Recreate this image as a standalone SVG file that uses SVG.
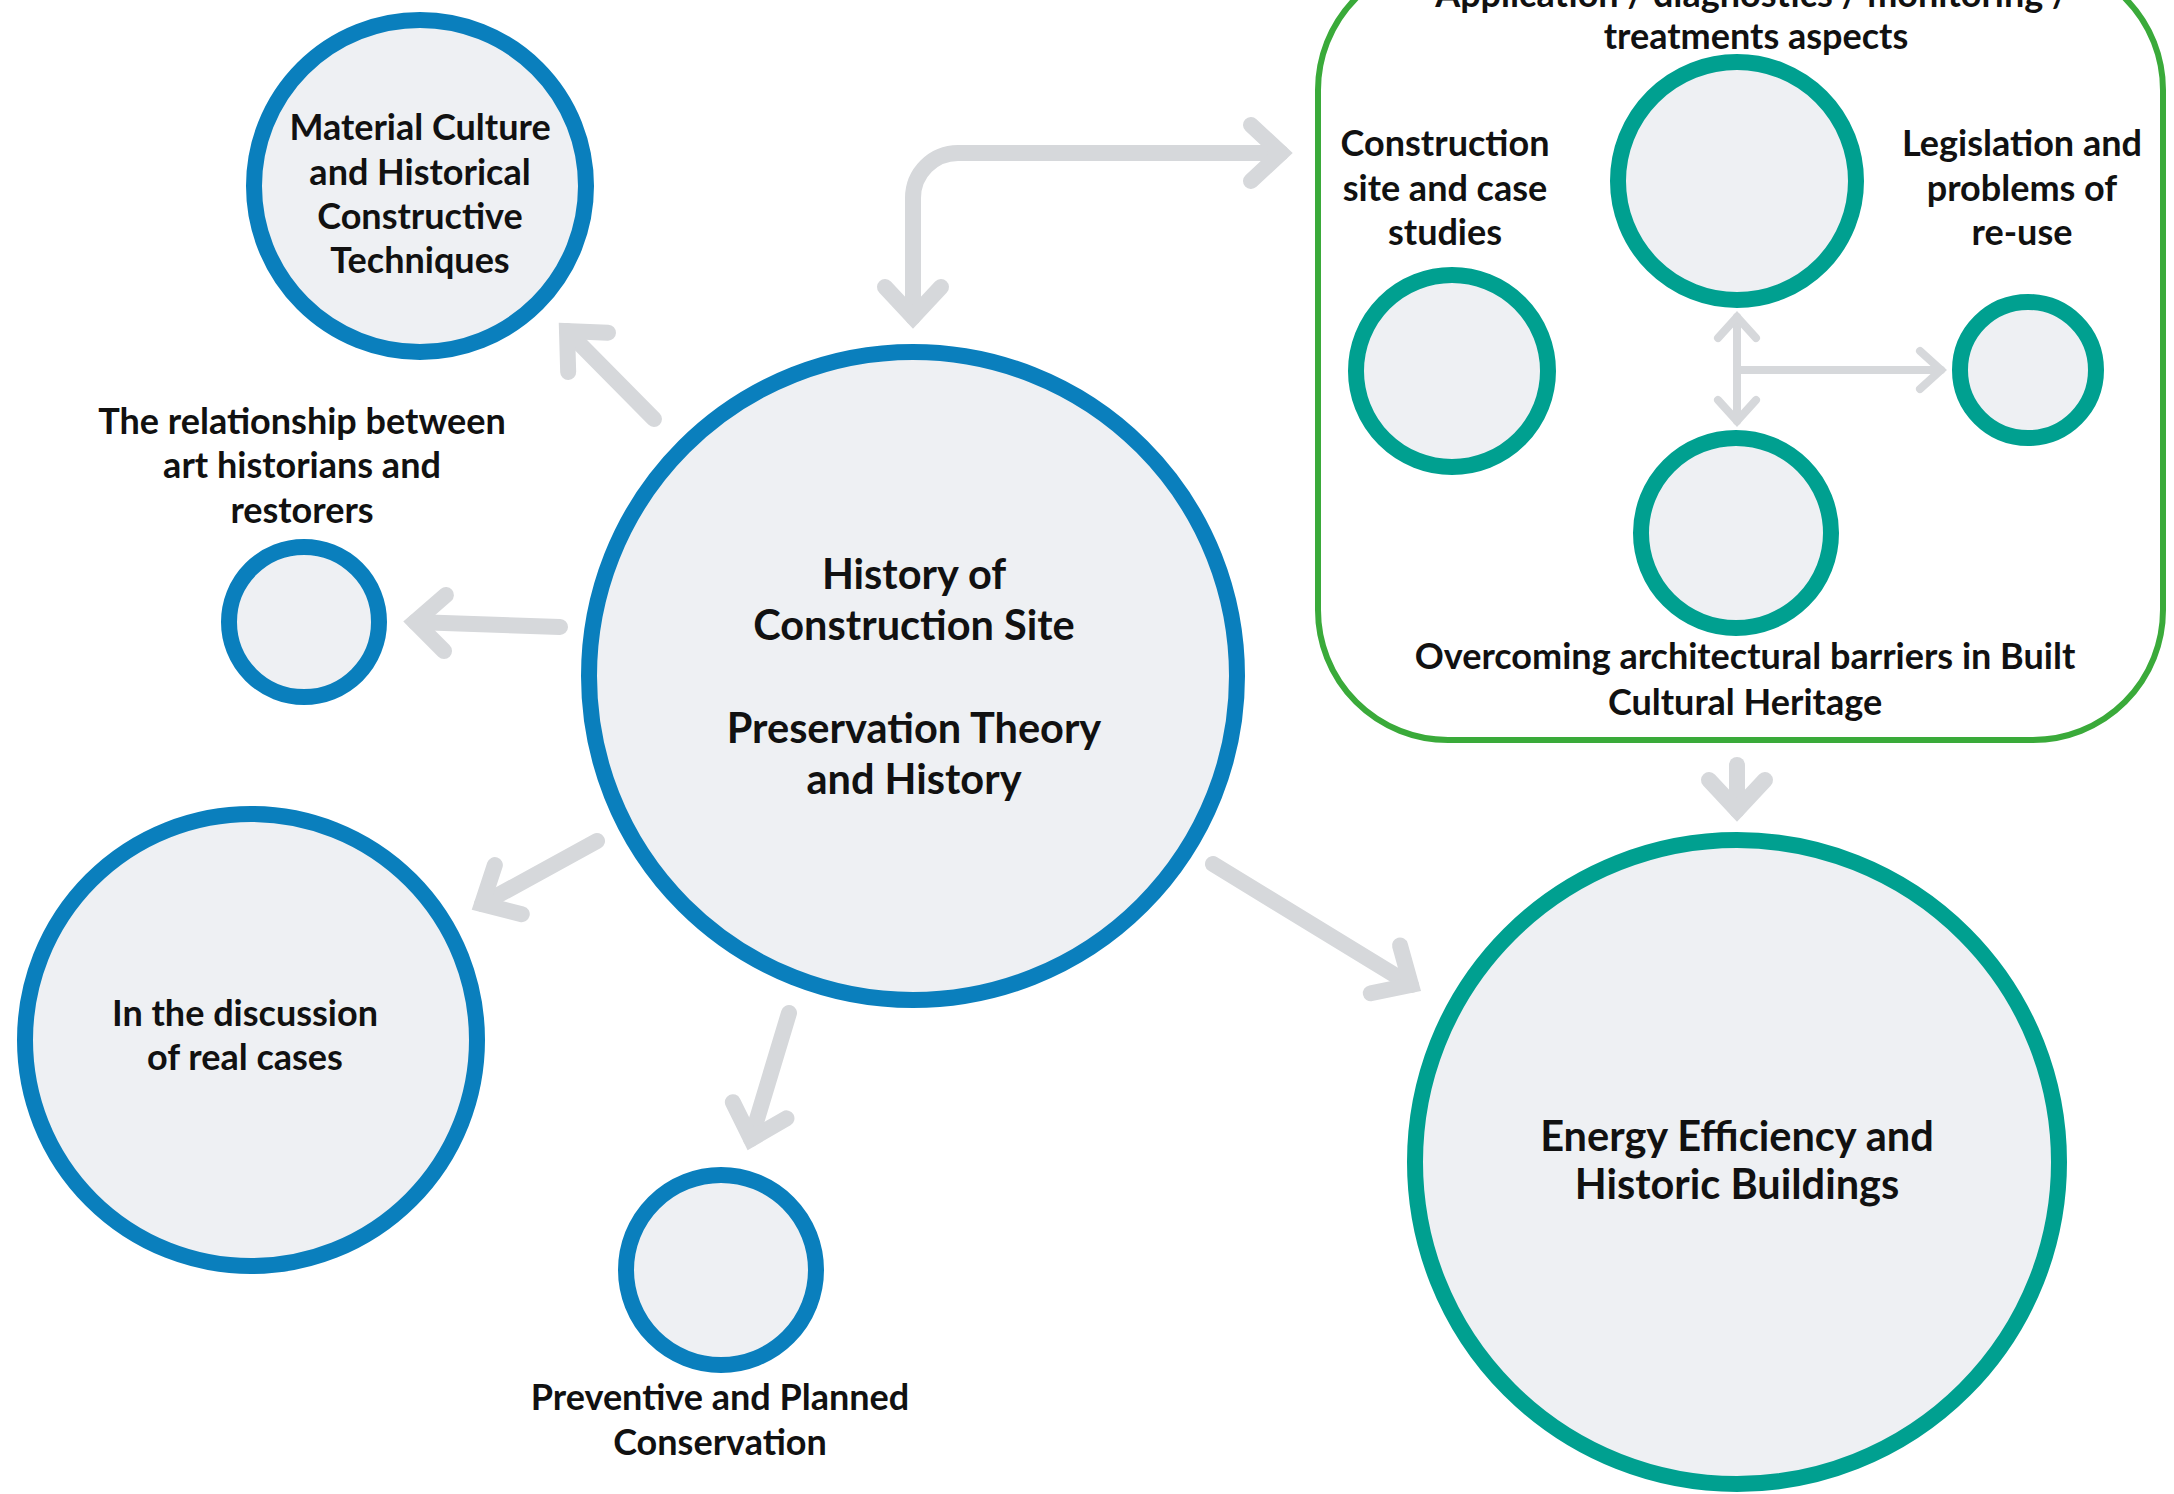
<svg xmlns="http://www.w3.org/2000/svg" width="2174" height="1494" viewBox="0 0 2174 1494">
<style>
  .blue { fill: #eef0f3; stroke: #0a7fbd; stroke-width: 16; }
  .teal { fill: #eef0f3; stroke: #00a090; stroke-width: 16; }
  .box { fill: none; stroke: #3aaa3a; stroke-width: 6; }
  .t { font-family: "Lato", "Liberation Sans", sans-serif; font-weight: 700; font-size: 36px; fill: #111111; text-anchor: middle; }
  .tl { font-size: 41.5px; }
  .arr { fill: none; stroke: #d6d8db; stroke-width: 16; stroke-linecap: round; }
  .arrs { fill: none; stroke: #d6d8db; stroke-width: 8; stroke-linecap: round; }
</style>
<defs>
  <marker id="ah" viewBox="-60 -50 80 100" refX="0" refY="0" markerWidth="80" markerHeight="100" markerUnits="userSpaceOnUse" orient="auto-start-reverse" overflow="visible">
    <path d="M -30 -28 L 0 0 L -30 28" fill="none" stroke="#d6d8db" stroke-width="16" stroke-linecap="round" stroke-linejoin="miter"/>
  </marker>
  <marker id="ahs" viewBox="-40 -30 50 60" refX="0" refY="0" markerWidth="50" markerHeight="60" markerUnits="userSpaceOnUse" orient="auto-start-reverse" overflow="visible">
    <path d="M -21 -19 L 0 0 L -21 19" fill="none" stroke="#d6d8db" stroke-width="8" stroke-linecap="round" stroke-linejoin="miter"/>
  </marker>
</defs>
<rect width="2174" height="1494" fill="#ffffff"/>

<g id="connectors">
  <path class="arr" d="M 654 419 L 567 331" marker-end="url(#ah)"/>
  <path class="arr" d="M 560 627 L 415 622" marker-end="url(#ah)"/>
  <path class="arr" d="M 597 841 L 482 904" marker-end="url(#ah)"/>
  <path class="arr" d="M 789 1013 L 751 1139" marker-end="url(#ah)"/>
  <path class="arr" d="M 1213 864 L 1411 985" marker-end="url(#ah)"/>
  <path class="arr" d="M 1737 765 L 1737 810" marker-end="url(#ah)"/>
  <path class="arr" d="M 913 317 L 913 198 A 45 45 0 0 1 958 153 L 1281 153" marker-start="url(#ah)" marker-end="url(#ah)"/>
  <path class="arrs" d="M 1737 317 L 1737 421" marker-start="url(#ahs)" marker-end="url(#ahs)"/>
  <path class="arrs" d="M 1737 370 L 1941 370" marker-end="url(#ahs)"/>
</g>

<g id="group-box">
  <rect class="box" x="1318" y="-40" width="845" height="780" rx="130" ry="130"/>
  <text class="t" x="1752" y="7">Application / diagnostics / monitoring /</text>
  <text class="t" x="1756" y="49">treatments aspects</text>
</g>

<g id="node-main">
  <circle class="blue" cx="913" cy="676" r="324"/>
  <text class="t tl" x="914" y="589">History of</text>
  <text class="t tl" x="914" y="640">Construction Site</text>
  <text class="t tl" x="914" y="743">Preservation Theory</text>
  <text class="t tl" x="914" y="794">and History</text>
</g>

<g id="node-material">
  <circle class="blue" cx="420" cy="186" r="166"/>
  <text class="t" x="420" y="140">Material Culture</text>
  <text class="t" x="420" y="185">and Historical</text>
  <text class="t" x="420" y="229">Constructive</text>
  <text class="t" x="420" y="273">Techniques</text>
</g>

<g id="node-relationship">
  <circle class="blue" cx="304" cy="622" r="75"/>
  <text class="t" x="302" y="434">The relationship between</text>
  <text class="t" x="302" y="478">art historians and</text>
  <text class="t" x="302" y="523">restorers</text>
</g>

<g id="node-discussion">
  <circle class="blue" cx="251" cy="1040" r="226"/>
  <text class="t" x="245" y="1026">In the discussion</text>
  <text class="t" x="245" y="1070">of real cases</text>
</g>

<g id="node-preventive">
  <circle class="blue" cx="721" cy="1270" r="95"/>
  <text class="t" x="720" y="1410">Preventive and Planned</text>
  <text class="t" x="720" y="1455">Conservation</text>
</g>

<g id="node-energy">
  <circle class="teal" cx="1737" cy="1162" r="322"/>
  <text class="t tl" x="1737" y="1151">Energy Efficiency and</text>
  <text class="t tl" x="1737" y="1199">Historic Buildings</text>
</g>

<g id="node-application">
  <circle class="teal" cx="1737" cy="181" r="119"/>
</g>

<g id="node-construction-site">
  <circle class="teal" cx="1452" cy="371" r="96"/>
  <text class="t" x="1445" y="156">Construction</text>
  <text class="t" x="1445" y="201">site and case</text>
  <text class="t" x="1445" y="245">studies</text>
</g>

<g id="node-legislation">
  <circle class="teal" cx="2028" cy="370" r="68"/>
  <text class="t" x="2022" y="156">Legislation and</text>
  <text class="t" x="2022" y="201">problems of</text>
  <text class="t" x="2022" y="245">re-use</text>
</g>

<g id="node-barriers">
  <circle class="teal" cx="1736" cy="533" r="95"/>
  <text class="t" x="1745" y="669">Overcoming architectural barriers in Built</text>
  <text class="t" x="1745" y="715">Cultural Heritage</text>
</g>
</svg>
